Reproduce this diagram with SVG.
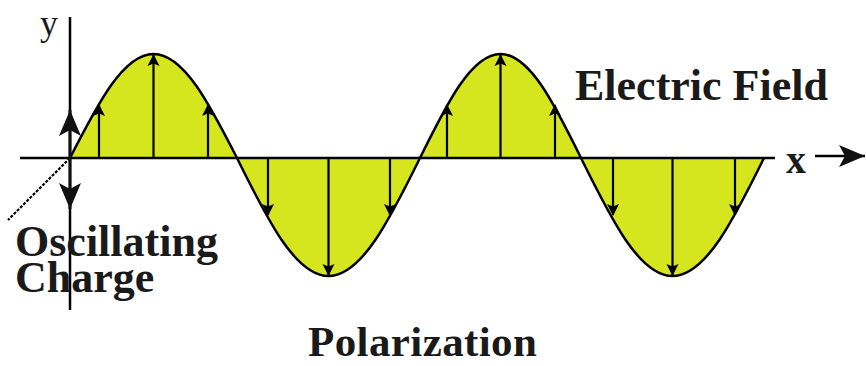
<svg xmlns="http://www.w3.org/2000/svg" width="866" height="366" viewBox="0 0 866 366">
<style>
.ln{stroke:#000;stroke-width:2.5;fill:none}
.fa{stroke:#000;stroke-width:2.2;fill:none;marker-end:url(#sh)}
.lbl{font-weight:bold;fill:#1a1a1a}
</style>
<defs>
<marker id="sh" markerUnits="userSpaceOnUse" markerWidth="14" markerHeight="14" viewBox="0 -7 12 14" refX="11" refY="0" orient="auto">
<path d="M0,-6 L12,0 L0,6 L2.5,0 Z" fill="#000"/>
</marker>
<marker id="big" markerUnits="userSpaceOnUse" markerWidth="28" markerHeight="26" viewBox="0 -13 27 26" refX="26" refY="0" orient="auto-start-reverse">
<path d="M0,-11 L26,0 L0,11 L6,0 Z" fill="#111"/>
</marker>
</defs>
<rect width="866" height="366" fill="#fff"/>

<g id="wave">
<path d="M70,158 C97.9,103.4 123.4,54 153.5,54 C183.6,54 209.1,103.4 237,158 C267.6,220 295.5,276 328.5,276 C361.5,276 389.4,220 420,158 C446.9,103.4 471.5,54 500.5,54 C529.5,54 554.1,103.4 581,158 C611.6,220 639.5,276 672.5,276 C705.5,276 733.4,220 764,158 Z" fill="#d6e61e" stroke="none"/>
</g>

<g id="axes">
<line class="ln" x1="20" y1="158" x2="775" y2="158"/>
<line class="ln" x1="70" y1="17" x2="70" y2="310"/>
<line x1="70" y1="158" x2="8" y2="220" stroke="#000" stroke-width="2.2" stroke-dasharray="3 1.5"/>
<line x1="815" y1="156" x2="865" y2="156" stroke="#000" stroke-width="2.5" marker-end="url(#big)"/>
</g>

<g id="field-arrows">
<line class="fa" x1="99" y1="158" x2="99" y2="105"/>
<line class="fa" x1="153.5" y1="158" x2="153.5" y2="55"/>
<line class="fa" x1="208" y1="158" x2="208" y2="105"/>
<line class="fa" x1="268" y1="158" x2="268" y2="215"/>
<line class="fa" x1="328.5" y1="158" x2="328.5" y2="275"/>
<line class="fa" x1="390" y1="158" x2="390" y2="215"/>
<line class="fa" x1="447" y1="158" x2="447" y2="105"/>
<line class="fa" x1="500.5" y1="158" x2="500.5" y2="55"/>
<line class="fa" x1="555" y1="158" x2="555" y2="105"/>
<line class="fa" x1="613" y1="158" x2="613" y2="215"/>
<line class="fa" x1="672.5" y1="158" x2="672.5" y2="275"/>
<line class="fa" x1="735" y1="158" x2="735" y2="215"/>
</g>

<g id="wave-line">
<path class="ln" d="M70,158 C97.9,103.4 123.4,54 153.5,54 C183.6,54 209.1,103.4 237,158 C267.6,220 295.5,276 328.5,276 C361.5,276 389.4,220 420,158 C446.9,103.4 471.5,54 500.5,54 C529.5,54 554.1,103.4 581,158 C611.6,220 639.5,276 672.5,276 C705.5,276 733.4,220 764,158"/>
</g>

<g id="charge">
<line x1="70" y1="209" x2="70" y2="110" stroke="#111" stroke-width="3" marker-start="url(#big)" marker-end="url(#big)"/>
</g>

<g id="labels" font-family="'Liberation Serif', 'Times New Roman', serif">
<text x="40" y="35" font-size="36" fill="#1a1a1a">y</text>
<text class="lbl" x="786" y="173" font-size="40">x</text>
<text class="lbl" x="575" y="100" font-size="44">Electric Field</text>
<text class="lbl" x="15" y="256" font-size="44">Oscillating</text>
<text class="lbl" x="15" y="292" font-size="44">Charge</text>
<text class="lbl" x="308" y="356" font-size="43" letter-spacing="0.4">Polarization</text>
</g>
</svg>
